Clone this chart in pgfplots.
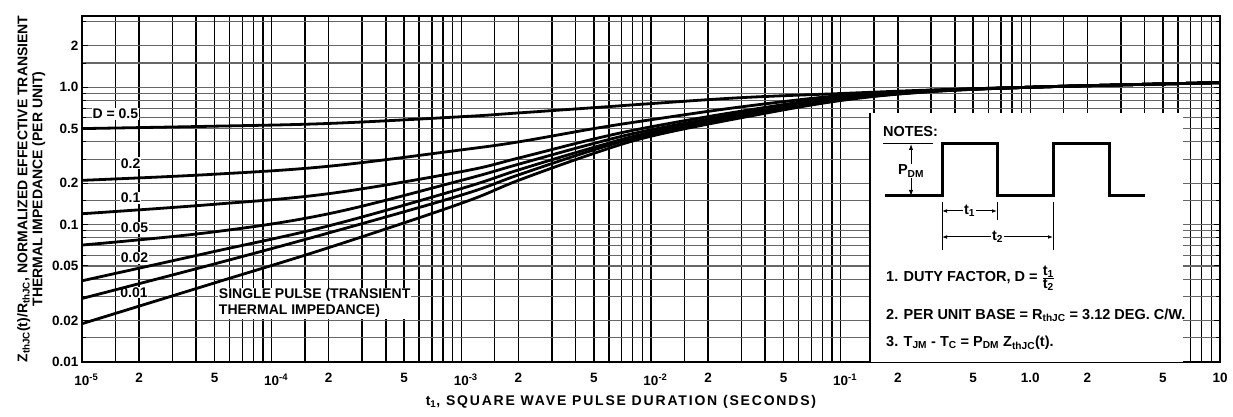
\documentclass[border=0pt]{standalone}
\usepackage{fontspec}
\setmainfont{Liberation Sans}
\newfontfamily\xlabfont{Liberation Sans}[LetterSpace=13]
\usepackage{pgfplots}
\pgfplotsset{compat=1.18}
\usetikzlibrary{arrows.meta}
\newcommand\nf{\fontsize{14}{16}\selectfont\bfseries}
\newcommand\notef{\fontsize{14.5}{16}\selectfont\bfseries}
\newcommand\dec[1]{10\rlap{\textsuperscript{#1}}}
\begin{document}
\begin{tikzpicture}
\useasboundingbox (-82pt,-55pt) rectangle (1151pt,362pt);
\begin{axis}[name=ax, at={(0,0)}, anchor=south west,
  xmode=log, ymode=log, width=1138pt, height=346pt, scale only axis,
  xmin=1e-5, xmax=10, ymin=0.01, ymax=3.3,
  xtick={1e-5,2e-5,5e-5,1e-4,2e-4,5e-4,1e-3,2e-3,5e-3,1e-2,2e-2,5e-2,0.1,0.2,0.5,1,2,5,10},
  xticklabels={\dec{-5},2,5,\dec{-4},2,5,\dec{-3},2,5,\dec{-2},2,5,\dec{-1},2,5,1.0,2,5,10},
  minor xtick={1.5e-5,3e-5,4e-5,6e-5,7e-5,8e-5,9e-5,1.5e-4,3e-4,4e-4,6e-4,7e-4,8e-4,9e-4,1.5e-3,3e-3,4e-3,6e-3,7e-3,8e-3,9e-3,1.5e-2,3e-2,4e-2,6e-2,7e-2,8e-2,9e-2,0.15,0.3,0.4,0.6,0.7,0.8,0.9,1.5,3,4,6,7,8,9},
  ytick={0.01,0.02,0.05,0.1,0.2,0.5,1,2},
  yticklabels={0.01,0.02,0.05,0.1,0.2,0.5,1.0,2},
  minor ytick={0.015,0.03,0.04,0.06,0.07,0.08,0.09,0.15,0.3,0.4,0.6,0.7,0.8,0.9,1.5,3},
  grid=both,
  major grid style={},
  minor grid style={},
  x grid style={black, line width=1.5pt},
  y grid style={black!60, line width=1.1pt},
  axis line style={line width=2pt},
  tick style={black, line width=1pt},
  major tick length=6pt, minor tick length=4pt,
  tick label style={font=\fontsize{13.5}{16}\selectfont\bfseries},
  xticklabel style={yshift=-8pt},
  xlabel={\xlabfont\fontsize{14}{15}\selectfont\bfseries t\textsubscript{1}, SQUARE WAVE PULSE DURATION (SECONDS)},
  xlabel style={xshift=-30pt, yshift=-3pt},
  ylabel={Z\textsubscript{thJC}(t)/R\textsubscript{thJC}, NORMALIZED EFFECTIVE TRANSIENT\\THERMAL IMPEDANCE (PER UNIT)},
  ylabel style={font=\fontsize{14}{15}\selectfont\bfseries, align=center},
  curve/.style={black, solid, line width=2.8pt, no marks, smooth, tension=0.6},
]
% labels (white boxes interrupting the grid)
\node[anchor=west, fill=white, inner sep=1pt, font=\nf] at (axis cs:1.12e-5,0.64) {D = 0.5};
\node[anchor=west, fill=white, inner sep=1pt, font=\nf] at (axis cs:1.58e-5,0.28) {0.2};
\node[anchor=west, fill=white, inner sep=1pt, font=\nf] at (axis cs:1.58e-5,0.157) {0.1};
\node[anchor=west, fill=white, inner sep=1pt, font=\nf] at (axis cs:1.58e-5,0.095) {0.05};
\node[anchor=west, fill=white, inner sep=1pt, font=\nf] at (axis cs:1.58e-5,0.057) {0.02};
\node[anchor=west, fill=white, inner sep=0.5pt, font=\nf] at (axis cs:1.58e-5,0.0322) {0.01};
\node[anchor=west, fill=white, inner sep=1pt, font=\nf, align=left] at (axis cs:5.2e-5,0.0268) {SINGLE PULSE (TRANSIENT\\THERMAL IMPEDANCE)};
% notes box background
\fill[white] (axis description cs:0.6924,0) rectangle (axis description cs:0.9675,0.7197);
\draw[line width=1.5pt] (axis description cs:0.6924,0) -- (axis description cs:0.6924,0.7197);
% curves
\addplot[curve] coordinates {(1e-5,0.019) (4.8e-5,0.037) (2e-4,0.068) (1e-3,0.143) (2e-3,0.21) (5e-3,0.33) (1e-2,0.44) (3e-2,0.60) (0.1,0.80) (0.3,0.93) (1,1.0) (3,1.04) (10,1.08)};
\addplot[curve] coordinates {(1e-5,0.029) (4.8e-5,0.051) (2e-4,0.087) (1e-3,0.164) (2e-3,0.23) (5e-3,0.35) (1e-2,0.455) (3e-2,0.61) (0.1,0.81) (0.3,0.93) (1,1.0) (3,1.04) (10,1.08)};
\addplot[curve] coordinates {(1e-5,0.039) (4.8e-5,0.063) (2e-4,0.098) (1e-3,0.183) (2e-3,0.25) (5e-3,0.365) (1e-2,0.47) (3e-2,0.625) (0.1,0.82) (0.3,0.935) (1,1.0) (3,1.04) (10,1.08)};
\addplot[curve] coordinates {(1e-5,0.071) (4.8e-5,0.088) (2e-4,0.12) (1e-3,0.21) (2e-3,0.275) (5e-3,0.39) (1e-2,0.49) (3e-2,0.645) (0.1,0.83) (0.3,0.94) (1,1.0) (3,1.04) (10,1.08)};
\addplot[curve] coordinates {(1e-5,0.12) (4.8e-5,0.14) (2e-4,0.168) (1e-3,0.243) (2e-3,0.305) (5e-3,0.42) (1e-2,0.515) (3e-2,0.67) (0.1,0.85) (0.3,0.945) (1,1.0) (3,1.04) (10,1.08)};
\addplot[curve] coordinates {(1e-5,0.21) (4.8e-5,0.232) (2e-4,0.266) (1e-3,0.35) (2e-3,0.40) (5e-3,0.50) (1e-2,0.58) (3e-2,0.72) (0.1,0.87) (0.3,0.95) (1,1.0) (3,1.04) (10,1.08)};
\addplot[curve] coordinates {(1e-5,0.5) (4.8e-5,0.52) (2e-4,0.545) (1e-3,0.61) (2e-3,0.65) (5e-3,0.71) (1e-2,0.76) (3e-2,0.84) (0.1,0.90) (0.3,0.955) (1,1.0) (3,1.04) (10,1.08)};
\end{axis}
\begin{scope}[shift={(ax.south west)}, x=1pt, y=1pt, font=\notef]
\node[anchor=west, inner sep=0pt] at (801,230) {NOTES:};
\draw[line width=1pt] (801,218) -- (851,218);
\draw[line width=1pt, {Latex[length=6pt]}-{Latex[length=6pt]}] (829,218) -- (829,166);
\node[fill=white, inner sep=1pt] at (829,191) {P\textsubscript{DM}};
\draw[line width=3pt, line join=miter] (803,166) -- (860,166) -- (860,218) -- (915,218) -- (915,166) -- (971,166) -- (971,218) -- (1027,218) -- (1027,166) -- (1063,166);
\draw[line width=1pt] (860,160) -- (860,112) (915,160) -- (915,142) (971,160) -- (971,112);
\draw[line width=1pt, {Latex[length=5pt]}-{Latex[length=5pt]}] (860,151) -- (915,151);
\node[fill=white, inner sep=1pt] at (887.5,151) {t\textsubscript{1}};
\draw[line width=1pt, {Latex[length=5pt]}-{Latex[length=5pt]}] (860,125) -- (971,125);
\node[fill=white, inner sep=1pt] at (915.5,125) {t\textsubscript{2}};
\node[anchor=west, inner sep=0pt] at (804,84) {1. DUTY FACTOR, D = $\frac{\mbox{t\textsubscript{1}}}{\mbox{t\textsubscript{2}}}$};
\node[anchor=west, inner sep=0pt] at (804,47) {2. PER UNIT BASE = R\textsubscript{thJC} = 3.12 DEG. C/W.};
\node[anchor=west, inner sep=0pt] at (804,19) {3. T\textsubscript{JM} - T\textsubscript{C} = P\textsubscript{DM} Z\textsubscript{thJC}(t).};
\end{scope}
\end{tikzpicture}
\end{document}
